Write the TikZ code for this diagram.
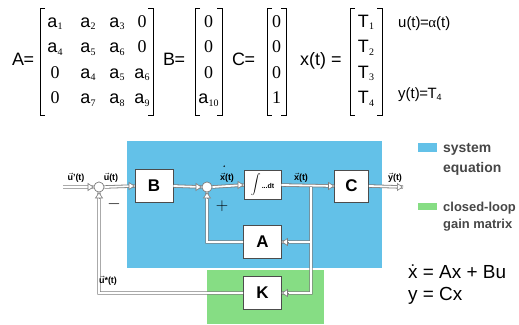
\documentclass[tikz,border=0pt]{standalone}
\usepackage{fontspec}
\setmainfont{Liberation Sans}
\newfontfamily\serf{Liberation Serif}
\usetikzlibrary{arrows.meta,calc}
\definecolor{sysblue}{RGB}{99,193,232}
\definecolor{gaingreen}{RGB}{134,221,132}
\definecolor{pipegray}{RGB}{125,125,125}
\definecolor{legtext}{RGB}{70,70,70}
\newcommand{\fs}[1]{\fontsize{#1}{#1}\selectfont}
\newcommand{\av}[1]{{\fs{18}a}\kern0.3pt\raisebox{-3pt}{\fs{10}\serf #1}}
\newcommand{\zr}[1]{{\fs{18}\serf #1}}
\newcommand{\tv}[1]{{\fs{18}T}\kern0.5pt\raisebox{-3pt}{\fs{10}\serf #1}}
\newcommand{\vecl}[1]{$\vec{\mbox{#1}}$}
\newcommand{\pipepaths}{%
  (in) -- (s1.west) (s1.east) -- (B.west) (B.east) -- (s2.west)
  (s2.east) -- (I.west) (I.east) -- (C.west) (C.east) -- (out)
  (br) |- (A.east) (br) |- (K.east)
  (A.west) -| (s2.south) (K.west) -| (s1.south)}
\begin{document}
\begin{tikzpicture}[x=1bp,y=-1bp,
  ent/.style={anchor=base, inner sep=0pt},
  lbl/.style={anchor=base west, inner sep=0pt},
  brk/.style={line width=0.8pt},
  blk/.style={draw=black!70, fill=white, line width=0.6pt, minimum width=38bp, minimum height=33bp, inner sep=0pt, font=\fs{17}\bfseries},
  sumc/.style={circle, draw=pipegray, fill=white, line width=0.6pt, minimum size=10bp, inner sep=0pt},
  pipeout/.style={draw=pipegray, line width=3.4bp},
  pipein/.style={draw=white, line width=1.8bp},
  tip/.style={draw=pipegray, line width=0.6pt, -{Triangle[open, fill=white, length=6bp, width=8bp]}},
  sig/.style={font=\fs{9}\bfseries, inner sep=0pt, anchor=base},
  leg/.style={anchor=base west, font=\fs{14}\bfseries, text=legtext, inner sep=0pt},
  ]
\useasboundingbox (0,0) rectangle (519,324);
% ---------- matrices ----------
\node[lbl] (lA) at (12,65) {\fs{18}A\kern-0.5pt=};
\node[ent] (a11) at (55,27) {\av1};   \node[ent] (a12) at (88,27) {\av2};
\node[ent] (a13) at (117,27) {\av3};  \node[ent] (a14) at (142,27) {\zr0};
\node[ent] (a21) at (55,52.5) {\av4}; \node[ent] (a22) at (88,52.5) {\av5};
\node[ent] (a23) at (117,52.5) {\av6};\node[ent] (a24) at (142,52.5) {\zr0};
\node[ent] (a31) at (55,78) {\zr0};   \node[ent] (a32) at (88,78) {\av4};
\node[ent] (a33) at (117,78) {\av5};  \node[ent] (a34) at (142,78) {\av6};
\node[ent] (a41) at (55,103.5) {\zr0};\node[ent] (a42) at (88,103.5) {\av7};
\node[ent] (a43) at (117,103.5) {\av8};\node[ent] (a44) at (142,103.5) {\av9};
\draw[brk] (45,8) -- (40,8) -- (40,115) -- (45,115);
\draw[brk] (148,8) -- (153,8) -- (153,115) -- (148,115);

\node[lbl] (lB) at (163,65) {\fs{18}B\kern-0.5pt=};
\node[ent] (b1) at (208.5,27) {\zr0};
\node[ent] (b2) at (208.5,52.5) {\zr0};
\node[ent] (b3) at (208.5,78) {\zr0};
\node[ent] (b4) at (208.5,103.5) {\av{10}};
\draw[brk] (200,8) -- (195,8) -- (195,115) -- (200,115);
\draw[brk] (217,8) -- (222,8) -- (222,115) -- (217,115);

\node[lbl] (lC) at (232,65) {\fs{18}C\kern-0.5pt=};
\node[ent] (c1) at (276.5,27) {\zr0};
\node[ent] (c2) at (276.5,52.5) {\zr0};
\node[ent] (c3) at (276.5,78) {\zr0};
\node[ent] (c4) at (276.5,103.5) {\zr1};
\draw[brk] (272,8) -- (267,8) -- (267,115) -- (272,115);
\draw[brk] (281,8) -- (286,8) -- (286,115) -- (281,115);

\node[lbl] (lx) at (300,65) {\fs{18}x(t) =};
\node[ent] (t1) at (366,27) {\tv1};
\node[ent] (t2) at (366,52.5) {\tv2};
\node[ent] (t3) at (366,78) {\tv3};
\node[ent] (t4) at (366,103.5) {\tv4};
\draw[brk] (355,8) -- (350,8) -- (350,115) -- (355,115);
\draw[brk] (377,8) -- (382,8) -- (382,115) -- (377,115);

\node[lbl] (ut) at (398,27) {\fs{15}u(t)\kern-0.5pt=\kern-0.5pt{\serf α}(t)};
\node[lbl] (yt) at (398,98) {\fs{15}y(t)\kern-0.5pt=\kern-0.5pt T\raisebox{-2.5pt}{\fs{9}4}};

% ---------- block diagram ----------
\fill[sysblue] (127,141) rectangle (382,268);
\fill[gaingreen] (207,270) rectangle (324,324);

\node[sumc] (s1) at (99,187) {};
\node[blk] (B) at (154,186) {B};
\node[sumc] (s2) at (207,187) {};
\node[blk, minimum width=37bp, minimum height=29bp] (I) at (262.5,185) {{\fs{14}$\displaystyle\int$}\kern1pt{\fs{7}\bfseries ...dt}};
\node[blk, minimum width=34bp, minimum height=32bp] (C) at (351.5,186) {C};
\node[blk] (A) at (262.5,242) {A};
\node[blk] (K) at (262.5,293) {K};
\coordinate (in) at (63,187);
\coordinate (out) at (403,187);
\coordinate (br) at (311,187);

\draw[pipeout] \pipepaths;
\draw[pipein] \pipepaths;
\draw[pipegray, line width=0.6pt, fill=white] (s1) circle (5bp);
\draw[pipegray, line width=0.6pt, fill=white] (s2) circle (5bp);

\draw[tip] ($(s1.west)+(-6,0)$) -- (s1.west);
\draw[tip] ($(B.west)+(-6,0)$) -- (B.west);
\draw[tip] ($(s2.west)+(-6,0)$) -- (s2.west);
\draw[tip] ($(I.west)+(-6,0)$) -- (I.west);
\draw[tip] ($(C.west)+(-6,0)$) -- (C.west);
\draw[tip] ($(out)+(-6,0)$) -- (out);
\draw[tip] ($(A.east)+(6,0)$) -- (A.east);
\draw[tip] ($(K.east)+(6,0)$) -- (K.east);
\draw[tip] ($(s1.south)+(0,6)$) -- (s1.south);
\draw[tip] ($(s2.south)+(0,6)$) -- (s2.south);

\node[sig] (lu1) at (76,180) {\vecl{u}'(t)};
\node[sig] (lu) at (111,180) {\vecl{u}(t)};
\node[sig] (lxd) at (227,180) {\vecl{x}(t)};
\fill (224.2,166.2) circle (0.8bp);
\node[sig] (lxx) at (301,180) {\vecl{x}(t)};
\node[sig] (lyy) at (395,180) {\vecl{y}(t)};
\node[sig] (lus) at (108,283) {\vecl{u}*(t)};
\node[inner sep=0pt, font=\fs{16}\bfseries] (minus) at (114,204) {$-$};
\node[inner sep=0pt, font=\fs{16}\bfseries] (plus) at (222,206) {$+$};

% ---------- legend ----------
\fill[sysblue] (418,143) rectangle (437,152);
\node[leg] (sys1) at (443,152) {system};
\node[leg] (sys2) at (443,172) {equation};
\fill[gaingreen] (418,203) rectangle (437,210);
\node[leg, font=\fs{13}\bfseries] (gn1) at (443,211) {closed-loop};
\node[leg, font=\fs{13}\bfseries] (gn2) at (443,228) {gain matrix};

\node[lbl] (eq1) at (408,278) {\fs{19}\.{x} = Ax + Bu};
\node[lbl] (eq2) at (408,300) {\fs{19}y = Cx};
\end{tikzpicture}
\end{document}
